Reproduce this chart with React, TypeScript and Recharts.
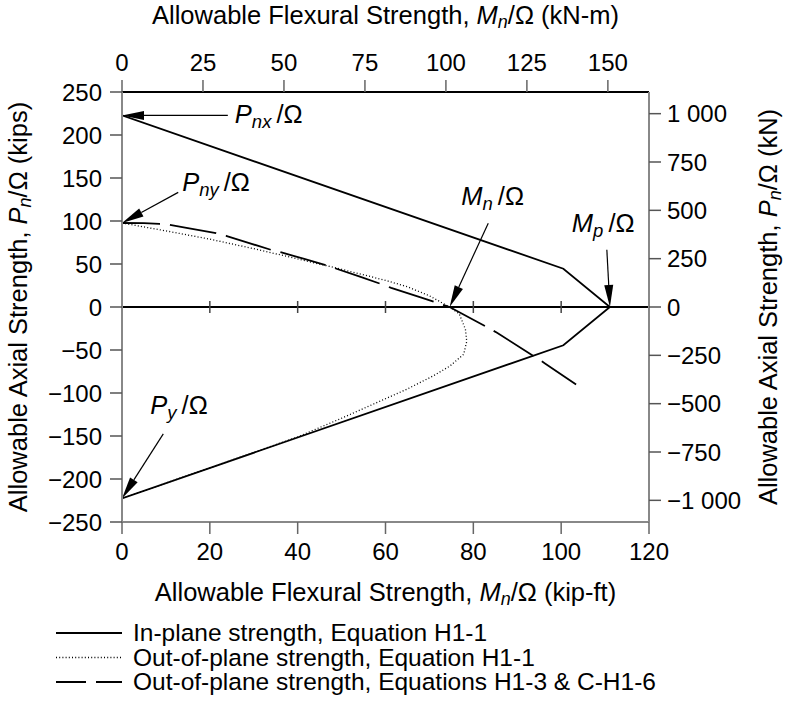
import React from 'react';
import { LineChart, Line, XAxis, YAxis, ReferenceLine, Label } from 'recharts';

const KIP_TO_KN = 4.44822;
const KIPFT_TO_KNM = 1.35582;

// In-plane strength, Equation H1-1 (kip-ft, kips)
const inPlaneM = [0, 100.5, 111.1, 100.5, 0];
const inPlaneP = [222.8, 44.5, 0, -44.5, -222.6];

// Out-of-plane strength, Equation H1-1
const outH11M = [0, 10, 20, 30, 40, 50, 60, 65, 70, 74.6, 76.8, 78.2, 78.5, 77.8, 74.7, 70.9, 64.9, 57.3, 49.7, 40, 20, 0];
const outH11P = [97.7, 88.5, 78.9, 67.8, 56, 43.8, 31, 23.5, 13, 0, -8, -26, -40, -55, -68.5, -80, -95.5, -112.8, -130, -151, -187, -222.6];

// Out-of-plane strength, Equations H1-3 & C-H1-6
const outH13M = [0, 5, 8.5, 10.8, 15, 21.4, 23.7, 28.8, 33.9, 36.3, 41.5, 46.6, 49, 54, 58.9, 61.3, 68, 71.3, 74.6, 83.1, 85.4, 94.1, 96.4, 103.4];
const outH13P = [97.7, 97.5, 96.6, 95.5, 91.8, 85.9, 82.8, 74.6, 66.5, 63.4, 55.9, 48.4, 44.2, 35.6, 26.9, 22.2, 11.3, 5.6, 0, -23.4, -30, -58.2, -65.9, -90];

const bottomTicks = [0, 20, 40, 60, 80, 100, 120];
const topTicks = [0, 25, 50, 75, 100, 125, 150];
const leftTicks = [-250, -200, -150, -100, -50, 0, 50, 100, 150, 200, 250];
const rightTicks = [-1000, -750, -500, -250, 0, 250, 500, 750, 1000];
const zeroLineTicks = [20, 40, 60, 80, 100];

// Annotations: label, arrow tail and tip (kip-ft, kips)
const annotations = [
  { main: 'P', sub: 'nx', tail: [24.1, 222.8], tip: [0, 222.8], dx: 7, dy: 8 },
  { main: 'P', sub: 'ny', tail: [12.8, 133.3], tip: [0, 97.7], dx: 4, dy: -1 },
  { main: 'M', sub: 'n', tail: [83.4, 97.5], tip: [74.6, 0], dx: -27, dy: -18 },
  { main: 'M', sub: 'p', tail: [110.4, 66.5], tip: [111.1, 0], dx: -35, dy: -18 },
  { main: 'P', sub: 'y', tail: [9.4, -147.6], tip: [0, -222.6], dx: -13, dy: -20 },
];

const legendItems = [
  { label: 'In-plane strength, Equation H1-1', dash: undefined as string | undefined, width: 1.8 },
  { label: 'Out-of-plane strength, Equation H1-1', dash: '1 2.2', width: 1.3 },
  { label: 'Out-of-plane strength, Equations H1-3 & C-H1-6', dash: '30 10', width: 1.8 },
];

const toRows = (m: number[], p: number[]) => m.map((v, i) => ({ m: v, p: p[i] }));
const inPlaneData = toRows(inPlaneM, inPlaneP);
const outH11Data = toRows(outH11M, outH11P);
const outH13Data = toRows(outH13M, outH13P);

// invisible helper spanning the SI axes so they get a domain
const topDomain = [0, 120 * KIPFT_TO_KNM];
const rightDomain = [-250 * KIP_TO_KN, 250 * KIP_TO_KN];
const siHelper = [
  { m: topDomain[0], p: rightDomain[0] },
  { m: topDomain[1], p: rightDomain[1] },
];

const FONT = '"Liberation Sans", Arial, Helvetica, sans-serif';
const FS = 24;
const TITLE_FS = 25.5;

const fmtMinus = (v: number) => (v < 0 ? '\u2212' + Math.abs(v) : String(v));
const fmtKN = (v: number) => {
  const a = Math.abs(v);
  const s = a >= 1000 ? Math.floor(a / 1000) + ' ' + String(a % 1000).padStart(3, '0') : String(a);
  return v < 0 ? '\u2212' + s : s;
};

const makeArrow = (a: typeof annotations[number]) => (props: any) => {
  const { x1, y1, x2, y2 } = props;
  if ([x1, y1, x2, y2].some((v) => typeof v !== 'number' || isNaN(v))) return <g />;
  const dx = x2 - x1;
  const dy = y2 - y1;
  const len = Math.hypot(dx, dy) || 1;
  const ux = dx / len;
  const uy = dy / len;
  const hl = 22;
  const hw = 4.5;
  const bx = x2 - ux * hl;
  const by = y2 - uy * hl;
  const px = -uy;
  const py = ux;
  return (
    <g>
      <line x1={x1} y1={y1} x2={bx} y2={by} stroke="#000" strokeWidth={1.2} />
      <polygon
        points={`${x2},${y2} ${bx + px * hw},${by + py * hw} ${bx - px * hw},${by - py * hw}`}
        fill="#000"
      />
      <text x={x1 + a.dx} y={y1 + a.dy} fontFamily={FONT} fontSize={25.5} fill="#000">
        <tspan fontStyle="italic">{a.main}</tspan>
        <tspan fontStyle="italic" fontSize={18.5} dy={5}>{a.sub}</tspan>
        <tspan dy={-5} dx={5}>/Ω</tspan>
      </text>
    </g>
  );
};

const titleSpans = (pre: string, main: string, sub: string, post: string) => [
  <tspan key="a">{pre}</tspan>,
  <tspan key="b" fontStyle="italic">{main}</tspan>,
  <tspan key="c" fontStyle="italic" fontSize={18} dy={4}>{sub}</tspan>,
  <tspan key="d" dy={-4}>{post}</tspan>,
];

const TopTitle = (props: any) => {
  const vb = props.viewBox || { x: 122, y: 0, width: 527, height: 92 };
  return (
    <text x={vb.x + vb.width / 2} y={vb.y + 24} textAnchor="middle" fontFamily={FONT} fontSize={TITLE_FS} fill="#000">
      {titleSpans('Allowable Flexural Strength, ', 'M', 'n', '/Ω (kN-m)')}
    </text>
  );
};

const BottomTitle = (props: any) => {
  const vb = props.viewBox || { x: 122, y: 522, width: 527, height: 100 };
  return (
    <text x={vb.x + vb.width / 2} y={vb.y + 79} textAnchor="middle" fontFamily={FONT} fontSize={TITLE_FS} fill="#000">
      {titleSpans('Allowable Flexural Strength, ', 'M', 'n', '/Ω (kip-ft)')}
    </text>
  );
};

const LeftTitle = (props: any) => {
  const vb = props.viewBox || { x: 0, y: 92, width: 122, height: 430 };
  const x = vb.x + 27;
  const y = vb.y + vb.height / 2;
  return (
    <text x={x} y={y} transform={`rotate(-90, ${x}, ${y})`} textAnchor="middle" fontFamily={FONT} fontSize={TITLE_FS} fill="#000">
      {titleSpans('Allowable Axial Strength, ', 'P', 'n', '/Ω (kips)')}
    </text>
  );
};

const RightTitle = (props: any) => {
  const vb = props.viewBox || { x: 649, y: 92, width: 136, height: 430 };
  const x = vb.x + 128;
  const y = vb.y + vb.height / 2;
  return (
    <text x={x} y={y} transform={`rotate(-90, ${x}, ${y})`} textAnchor="middle" fontFamily={FONT} fontSize={TITLE_FS} fill="#000">
      {titleSpans('Allowable Axial Strength, ', 'P', 'n', '/Ω (kN)')}
    </text>
  );
};

const tickStyle = { fontSize: FS, fill: '#000', fontFamily: FONT };

export default function App() {
  return (
    <div style={{ position: 'absolute', left: 0, top: 0, width: 785, height: 708, background: '#fff' }}>
      <LineChart width={785} height={708} margin={{ top: 0, right: 0, bottom: 86, left: 0 }}>
        <XAxis
          xAxisId="bottom"
          type="number"
          dataKey="m"
          domain={[0, 120]}
          ticks={bottomTicks}
          interval={0}
          allowDataOverflow
          orientation="bottom"
          height={100}
          tickSize={12}
          tickMargin={9}
          tick={tickStyle}
          tickLine={{ stroke: '#666', strokeWidth: 1.5 }}
          axisLine={{ stroke: '#888', strokeWidth: 2 }}
        >
          <Label content={BottomTitle} />
        </XAxis>
        <XAxis
          xAxisId="top"
          type="number"
          dataKey="m"
          domain={topDomain}
          ticks={topTicks}
          interval={0}
          allowDataOverflow
          orientation="top"
          height={92}
          tickSize={12}
          tickMargin={9}
          tick={tickStyle}
          tickLine={{ stroke: '#666', strokeWidth: 1.5 }}
          axisLine={{ stroke: '#000', strokeWidth: 2 }}
        >
          <Label content={TopTitle} />
        </XAxis>
        <YAxis
          yAxisId="left"
          type="number"
          domain={[-250, 250]}
          ticks={leftTicks}
          interval={0}
          allowDataOverflow
          orientation="left"
          width={122}
          tickSize={12}
          tickMargin={8}
          tick={tickStyle}
          tickFormatter={fmtMinus}
          tickLine={{ stroke: '#555', strokeWidth: 1.5 }}
          axisLine={{ stroke: '#888', strokeWidth: 2 }}
        >
          <Label content={LeftTitle} />
        </YAxis>
        <YAxis
          yAxisId="right"
          type="number"
          domain={rightDomain}
          ticks={rightTicks}
          interval={0}
          allowDataOverflow
          orientation="right"
          width={136}
          tickSize={12}
          tickMargin={6}
          tick={tickStyle}
          tickFormatter={fmtKN}
          tickLine={{ stroke: '#555', strokeWidth: 1.5 }}
          axisLine={{ stroke: '#888', strokeWidth: 2 }}
        >
          <Label content={RightTitle} />
        </YAxis>

        <Line
          xAxisId="top"
          yAxisId="right"
          data={siHelper}
          dataKey="p"
          type="linear"
          stroke="none"
          strokeOpacity={0}
          dot={false}
          activeDot={false}
          legendType="none"
          isAnimationActive={false}
        />

        <ReferenceLine xAxisId="bottom" yAxisId="left" y={0} stroke="#000" strokeWidth={1.8} ifOverflow="visible" />
        {zeroLineTicks.map((t) => (
          <ReferenceLine
            key={t}
            xAxisId="bottom"
            yAxisId="left"
            segment={[{ x: t, y: -7 }, { x: t, y: 7 }]}
            stroke="#444"
            strokeWidth={1.5}
            ifOverflow="visible"
          />
        ))}

        <Line
          xAxisId="bottom"
          yAxisId="left"
          data={inPlaneData}
          dataKey="p"
          type="linear"
          stroke="#000"
          strokeWidth={1.8}
          dot={false}
          activeDot={false}
          isAnimationActive={false}
        />
        <Line
          xAxisId="bottom"
          yAxisId="left"
          data={outH11Data}
          dataKey="p"
          type="linear"
          stroke="#000"
          strokeWidth={1.3}
          strokeDasharray="1 2.2"
          dot={false}
          activeDot={false}
          isAnimationActive={false}
        />
        <Line
          xAxisId="bottom"
          yAxisId="left"
          data={outH13Data}
          dataKey="p"
          type="linear"
          stroke="#000"
          strokeWidth={1.8}
          strokeDasharray="47 10"
          strokeDashoffset={9}
          dot={false}
          activeDot={false}
          isAnimationActive={false}
        />

        {annotations.map((a, i) => (
          <ReferenceLine
            key={'ann' + i}
            xAxisId="bottom"
            yAxisId="left"
            segment={[{ x: a.tail[0], y: a.tail[1] }, { x: a.tip[0], y: a.tip[1] }]}
            ifOverflow="visible"
            shape={makeArrow(a)}
          />
        ))}
      </LineChart>
      <svg
        width={785}
        height={110}
        style={{ position: 'absolute', left: 0, top: 598 }}
      >
        {legendItems.map((it, i) => {
          const base = 43 + i * 24.5;
          return (
            <g key={i}>
              <line
                x1={56}
                x2={122}
                y1={base - 8}
                y2={base - 8}
                stroke="#000"
                strokeWidth={it.width}
                strokeDasharray={it.dash}
              />
              <text x={133} y={base} fontFamily={FONT} fontSize={24.5} fill="#000">
                {it.label}
              </text>
            </g>
          );
        })}
      </svg>
    </div>
  );
}
